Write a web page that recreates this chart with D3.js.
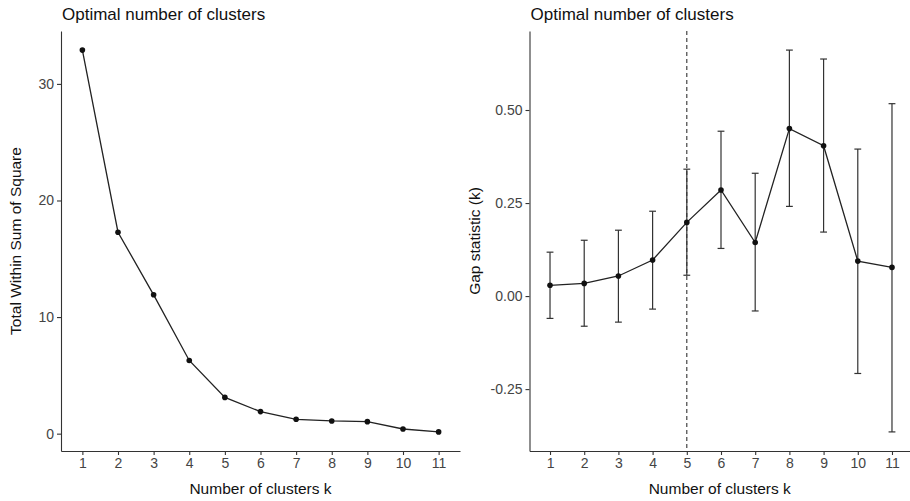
<!DOCTYPE html>
<html lang="en">
  <head>
    <meta charset="utf-8">
    <title>Optimal number of clusters</title>
    <style>
      body { margin: 0; background: #fff; }
      svg { display: block; font-family: "Liberation Sans", Arial, sans-serif; }
    </style>
  </head>
  <body>
    <div id="chart"></div>
  </body>
  <script src="https://cdnjs.cloudflare.com/ajax/libs/d3/7.8.5/d3.min.js"></script>
  <script type="text/javascript">

    // cluster counts on the x axis
    const clusters = [1, 2, 3, 4, 5, 6, 7, 8, 9, 10, 11]

    // elbow method: total within sum of square
    const wss = [32.9, 17.28, 11.91, 6.28, 3.11, 1.89, 1.23, 1.09, 1.03, 0.40, 0.15]

    // gap statistic with its error bars
    const gap = [0.029, 0.034, 0.054, 0.097, 0.198, 0.285, 0.144, 0.450, 0.404, 0.094, 0.077]
    const gapLow = [-0.060, -0.081, -0.070, -0.035, 0.056, 0.128, -0.040, 0.241, 0.172, -0.208, -0.365]
    const gapHigh = [0.118, 0.150, 0.177, 0.228, 0.341, 0.443, 0.330, 0.661, 0.637, 0.395, 0.517]
    const optimalK = 5

    const wssTicks = [0, 10, 20, 30]
    const gapTicks = [-0.25, 0, 0.25, 0.5]

    const width = 910
    const height = 501

    const svg = d3.select('#chart')
      .append('svg')
      .attr('width', width)
      .attr('height', height)

    // ggplot-like 5% expansion on continuous axes
    function expand(lo, hi) {
      const pad = (hi - lo) * 0.05
      return [lo - pad, hi + pad]
    }

    // d3 uses the unicode minus, the original shows a plain hyphen
    const hyphen = fmt => v => fmt(v).replace('\u2212', '-')

    function drawPanel(opts) {
      const { left, right, top = 31, bottom = 451, yDomain, yTicks, yFormat, yTitle, yTitleX } = opts
      const g = svg.append('g')

      const x = d3.scalePoint()
        .domain(clusters)
        .range([left, right])
        .padding(0.6)

      const y = d3.scaleLinear()
        .domain(yDomain)
        .range([bottom, top])

      // axes
      const xAxis = g.append('g')
        .attr('transform', `translate(0,${bottom})`)
        .call(d3.axisBottom(x).tickSize(4).tickSizeOuter(0).tickPadding(3))
      const yAxis = g.append('g')
        .attr('transform', `translate(${left},0)`)
        .call(d3.axisLeft(y).tickValues(yTicks).tickFormat(yFormat).tickSize(4).tickSizeOuter(0).tickPadding(3))

      ;[xAxis, yAxis].forEach(a => {
        a.select('.domain').attr('stroke', '#333').attr('stroke-width', 1.1)
        a.selectAll('.tick line').attr('stroke', '#333').attr('stroke-width', 1.1)
        a.selectAll('.tick text')
          .attr('fill', '#444')
          .style('font-size', '14px')
          .style('font-family', '"Liberation Sans", Arial, sans-serif')
      })

      // title
      g.append('text')
        .attr('x', left + 1)
        .attr('y', 20)
        .style('font-size', '17px')
        .attr('fill', '#111')
        .text('Optimal number of clusters')

      // axis titles
      g.append('text')
        .attr('x', (left + Math.min(right, width)) / 2)
        .attr('y', 494)
        .attr('text-anchor', 'middle')
        .style('font-size', '15.5px')
        .attr('fill', '#111')
        .text('Number of clusters k')

      g.append('text')
        .attr('transform', `translate(${yTitleX},${(top + bottom) / 2}) rotate(-90)`)
        .attr('text-anchor', 'middle')
        .style('font-size', '15.5px')
        .attr('fill', '#111')
        .text(yTitle)

      return { g, x, y }
    }

    // ---- left panel: elbow ----
    const p1 = drawPanel({
      left: 61, right: 460,
      yDomain: expand(d3.min(wss), d3.max(wss)),
      yTicks: wssTicks,
      yFormat: d3.format('d'),
      yTitle: 'Total Within Sum of Square',
      yTitleX: 21
    })

    const wssData = clusters.map((k, i) => ({ k, v: wss[i] }))
    p1.g.append('path')
      .datum(wssData)
      .attr('fill', 'none')
      .attr('stroke', '#222')
      .attr('stroke-width', 1.3)
      .attr('d', d3.line().x(d => p1.x(d.k)).y(d => p1.y(d.v)))
    p1.g.selectAll('.wss-pt')
      .data(wssData)
      .enter()
      .append('circle')
      .attr('class', 'wss-pt')
      .attr('cx', d => p1.x(d.k))
      .attr('cy', d => p1.y(d.v))
      .attr('r', 2.8)
      .attr('fill', '#111')

    // ---- right panel: gap statistic ----
    const p2 = drawPanel({
      left: 529.5, right: 912.5,
      yDomain: expand(d3.min(gapLow), d3.max(gapHigh)),
      yTicks: gapTicks,
      yFormat: hyphen(d3.format('.2f')),
      yTitle: 'Gap statistic (k)',
      yTitleX: 480
    })

    const gapData = clusters.map((k, i) => ({ k, v: gap[i], lo: gapLow[i], hi: gapHigh[i] }))

    // dashed line at the optimal k
    p2.g.append('line')
      .attr('x1', p2.x(optimalK))
      .attr('x2', p2.x(optimalK))
      .attr('y1', p2.y.range()[1])
      .attr('y2', p2.y.range()[0])
      .attr('stroke', '#333')
      .attr('stroke-width', 1.1)
      .attr('stroke-dasharray', '4,3')

    const capHalf = p2.x.step() * 0.1
    const bars = p2.g.selectAll('.err')
      .data(gapData)
      .enter()
      .append('g')
      .attr('class', 'err')
      .attr('stroke', '#333')
      .attr('stroke-width', 1.2)
    bars.append('line')
      .attr('x1', d => p2.x(d.k)).attr('x2', d => p2.x(d.k))
      .attr('y1', d => p2.y(d.lo)).attr('y2', d => p2.y(d.hi))
    bars.append('line')
      .attr('x1', d => p2.x(d.k) - capHalf).attr('x2', d => p2.x(d.k) + capHalf)
      .attr('y1', d => p2.y(d.lo)).attr('y2', d => p2.y(d.lo))
    bars.append('line')
      .attr('x1', d => p2.x(d.k) - capHalf).attr('x2', d => p2.x(d.k) + capHalf)
      .attr('y1', d => p2.y(d.hi)).attr('y2', d => p2.y(d.hi))

    p2.g.append('path')
      .datum(gapData)
      .attr('fill', 'none')
      .attr('stroke', '#222')
      .attr('stroke-width', 1.3)
      .attr('d', d3.line().x(d => p2.x(d.k)).y(d => p2.y(d.v)))
    p2.g.selectAll('.gap-pt')
      .data(gapData)
      .enter()
      .append('circle')
      .attr('class', 'gap-pt')
      .attr('cx', d => p2.x(d.k))
      .attr('cy', d => p2.y(d.v))
      .attr('r', 2.8)
      .attr('fill', '#111')

  </script>
</html>
